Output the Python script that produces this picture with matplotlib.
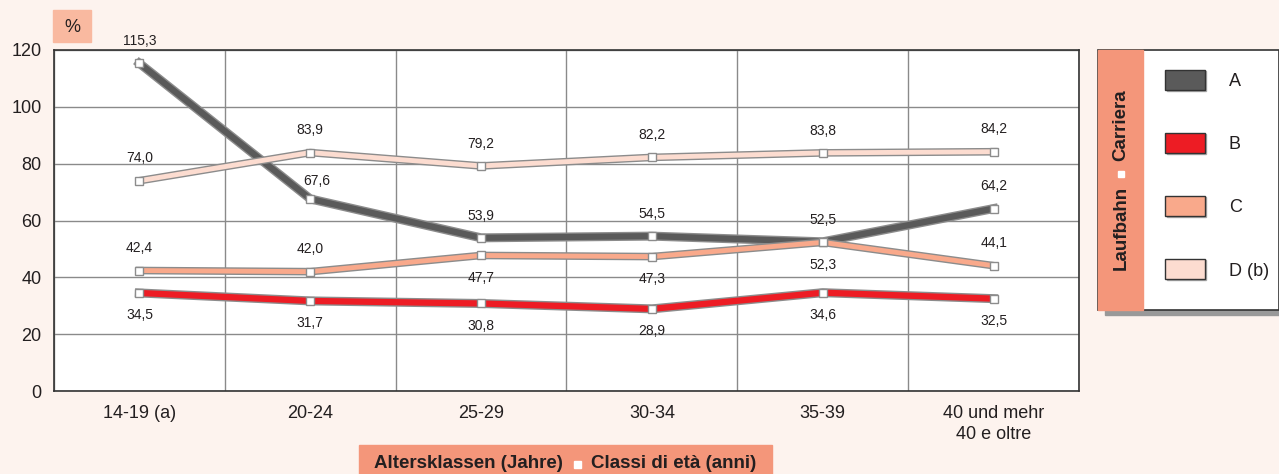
import matplotlib.pyplot as plt
import matplotlib.patches as patch
import matplotlib.patheffects as pe
import numpy as np

plt.rcParams['font.family'] = ['Liberation Sans', 'DejaVu Sans']

# data
categories = ['14-19 (a)', '20-24', '25-29', '30-34', '35-39', '40 und mehr\n40 e oltre']
series_names = ['A', 'B', 'C', 'D (b)']
A = [115.3, 67.6, 53.9, 54.5, 52.5, 64.2]
B = [34.5, 31.7, 30.8, 28.9, 34.6, 32.5]
C = [42.4, 42.0, 47.7, 47.3, 52.3, 44.1]
D = [74.0, 83.9, 79.2, 82.2, 83.8, 84.2]

# label above (1) or below (-1)
A_pos = [1, 1, 1, 1, 1, 1]
B_pos = [-1, -1, -1, -1, -1, -1]
C_pos = [1, 1, -1, -1, -1, 1]
D_pos = [1, 1, 1, 1, 1, 1]

bg = '#fdf3ee'
colors = ['#5a5a5a', '#ed1c24', '#f9a98b', '#fcdcd0']
lws = [4.5, 4.5, 3.5, 3.5]

W, H = 1279, 474
fig = plt.figure(figsize=(W / 100, H / 100), dpi=100, facecolor=bg)

def fx(px):
    return px / W

def fy(py):
    return 1 - py / H

ax = fig.add_axes([fx(54), fy(391), fx(1079) - fx(54), fy(50) - fy(391)])
ax.set_facecolor('white')

x = np.arange(len(categories))
ax.set_xlim(-0.5, len(categories) - 0.5)
ax.set_ylim(0, 120)
ax.set_yticks(np.arange(0, 121, 20))
ax.set_xticks(x)
ax.set_xticklabels(categories, fontsize=13, color='#231f20', linespacing=1.3)
ax.set_xticks(np.arange(-0.5, len(categories), 1), minor=True)
ax.tick_params(axis='both', which='both', length=0)
ax.tick_params(axis='x', pad=10)
ax.tick_params(axis='y', labelsize=13, labelcolor='#231f20', pad=9)
ax.grid(axis='y', which='major', color='#8a8a8a', lw=1)
ax.grid(axis='x', which='minor', color='#8a8a8a', lw=1)
ax.set_axisbelow(True)
for s in ax.spines.values():
    s.set_color('#333333')
    s.set_linewidth(1.2)

data = [A, B, C, D]
positions = [A_pos, B_pos, C_pos, D_pos]
for k, (vals, col, lw, pos) in enumerate(zip(data, colors, lws, positions)):
    ax.plot(x, vals, color=col, lw=lw, solid_joinstyle='round', zorder=3,
            path_effects=[pe.Stroke(linewidth=lw + 2, foreground='#8c8c8c'), pe.Normal()])
    ax.plot(x, vals, ls='none', marker='s', ms=6, mfc='white', mec='#8c8c8c',
            mew=1, zorder=4)
    for i, (xi, v, p) in enumerate(zip(x, vals, pos)):
        lbl = f'{v:.1f}'.replace('.', ',')
        dx, dy = 0, 11 * p
        if k == 0 and i == 1:
            dx, dy = 5, 8
        ax.annotate(lbl, (xi, v), xytext=(dx, dy), textcoords='offset points',
                    ha='center', va='bottom' if p > 0 else 'top', fontsize=10,
                    color='#231f20', zorder=5)

# "%" box
fig.patches.append(patch.Rectangle((fx(53), fy(42)), fx(91) - fx(53), fy(10) - fy(42),
                                   transform=fig.transFigure, color='#f9b9a0', zorder=0))
fig.text(fx(72), fy(27), '%', ha='center', va='center', fontsize=13, color='#231f20')

# bottom title
fig.patches.append(patch.Rectangle((fx(359), 0), fx(772) - fx(359), fy(445),
                                   transform=fig.transFigure, color='#f4967a', zorder=0))
fig.text(fx(563), fy(464), 'Altersklassen (Jahre)', ha='right', va='center',
         fontsize=13.5, fontweight='bold', color='#231f20')
fig.text(fx(591), fy(464), 'Classi di età (anni)', ha='left', va='center',
         fontsize=13.5, fontweight='bold', color='#231f20')
fig.patches.append(patch.Rectangle((fx(574), fy(468)), fx(581) - fx(574), fy(461) - fy(468),
                                   transform=fig.transFigure, color='white', zorder=1))

# legend box
fig.patches.append(patch.Rectangle((fx(1105), fy(315)), 1 - fx(1105), fy(50) - fy(310),
                                   transform=fig.transFigure, color='#999999', zorder=0))
fig.patches.append(patch.Rectangle((fx(1098), fy(310)), 1 - fx(1098), fy(50) - fy(310),
                                   transform=fig.transFigure, facecolor='white',
                                   edgecolor='#333333', lw=1.2, zorder=1))
fig.patches.append(patch.Rectangle((fx(1098), fy(310)), fx(1143) - fx(1098), fy(50) - fy(310),
                                   transform=fig.transFigure, color='#f4967a', zorder=2))
fig.text(fx(1121), fy(186), 'Laufbahn', rotation=90, ha='center', va='top',
         fontsize=13.5, fontweight='bold', color='#231f20', zorder=3)
fig.text(fx(1121), fy(161), 'Carriera', rotation=90, ha='center', va='bottom',
         fontsize=13.5, fontweight='bold', color='#231f20', zorder=3)
fig.patches.append(patch.Rectangle((fx(1118), fy(177)), fx(1124) - fx(1118), fy(171) - fy(177),
                                   transform=fig.transFigure, color='white', zorder=3))

sw_y = [80, 143, 206, 269]
for yy, col, name in zip(sw_y, colors, series_names):
    fig.patches.append(patch.Rectangle((fx(1167), fy(yy + 11)), fx(1206) - fx(1167), fy(yy - 9) - fy(yy + 11),
                                       transform=fig.transFigure, color='#aaaaaa', zorder=3))
    fig.patches.append(patch.Rectangle((fx(1165), fy(yy + 10)), fx(1205) - fx(1165), fy(yy - 10) - fy(yy + 10),
                                       transform=fig.transFigure, facecolor=col,
                                       edgecolor='#333333', lw=1, zorder=4))
    fig.text(fx(1229), fy(yy + 2), name, ha='left', va='center', fontsize=13,
             color='#231f20', zorder=4)

fig.savefig('out.png', dpi=100, facecolor=bg)
